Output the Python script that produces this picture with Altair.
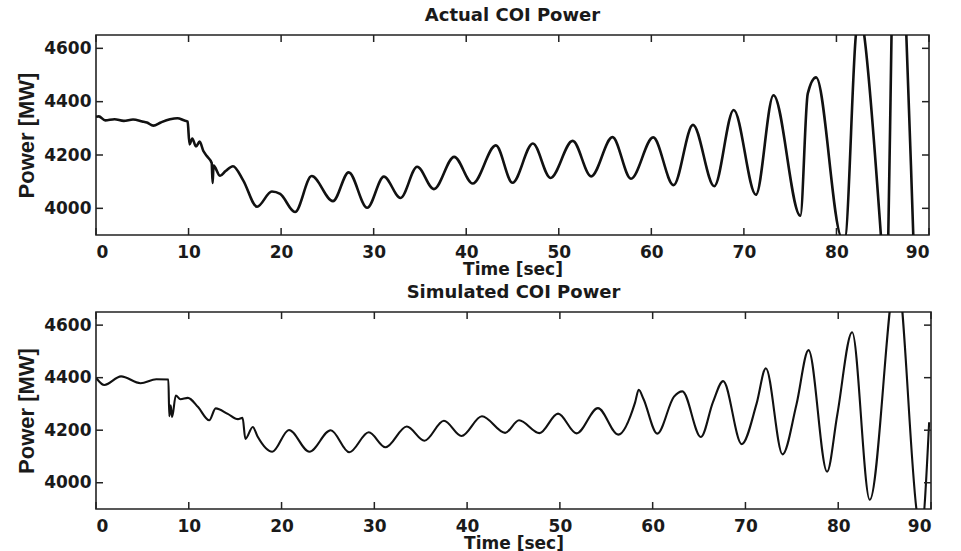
import altair as alt
import pandas as pd

# ---- data ----
actual_t = [0.0, 0.3, 1.0, 2.0, 3.0, 4.0, 5.0, 5.5, 6.2, 7.0, 8.0, 8.8, 9.5, 9.9,
            10.1, 10.4, 10.8, 11.2, 11.6, 12.0, 12.5, 12.6, 12.7, 13.4, 14.0, 14.8,
            15.9, 17.4, 19.0, 19.9, 21.5, 23.3, 25.6, 27.3, 29.3, 31.1, 32.9, 34.7,
            36.5, 38.7, 40.7, 43.2, 45.0, 47.2, 49.1, 51.5, 53.5, 55.8, 57.8, 60.2,
            62.4, 64.5, 66.8, 68.9, 71.3, 73.2, 76.1, 76.9, 77.8, 80.6, 80.9, 82.1,
            82.5, 83.0, 84.8, 85.2, 85.6, 85.95, 86.4, 87.0, 87.55, 88.3, 88.7]
actual_p = [4343, 4345, 4330, 4334, 4328, 4333, 4326, 4322, 4310, 4322, 4334, 4338, 4330, 4325,
            4240, 4262, 4232, 4250, 4215, 4195, 4170, 4095, 4160, 4122, 4140, 4158,
            4105, 4006, 4063, 4054, 3986, 4121, 4027, 4135, 4002, 4119, 4039, 4156,
            4072, 4193, 4093, 4236, 4096, 4243, 4114, 4253, 4120, 4267, 4111, 4266,
            4087, 4313, 4083, 4369, 4051, 4424, 3972, 4430, 4491, 3890, 3890, 4650,
            4760, 4650, 3900, 3700, 3900, 4650, 5100, 5000, 4650, 3900, 3500]

sim_t = [0.0, 0.9, 2.7, 4.8, 6.5, 7.8, 7.9, 8.05, 8.2, 8.6, 9.1, 9.9, 11.0, 12.2,
         12.9, 14.2, 15.3, 15.8, 16.1, 16.9, 17.4, 19.0, 20.8, 23.0, 25.3, 27.3,
         29.4, 31.2, 33.5, 35.4, 37.5, 39.4, 41.6, 44.1, 45.6, 47.8, 49.8, 51.8,
         54.1, 56.3, 58.1, 58.5, 59.0, 60.5, 62.3, 63.2, 65.2, 66.5, 67.6, 69.6,
         71.2, 72.2, 74.0, 75.5, 76.8, 78.8, 79.9, 81.5, 83.4, 86.3, 88.5, 88.9, 89.8]
sim_p = [4400, 4372, 4405, 4379, 4394, 4393, 4253, 4295, 4250, 4332, 4318, 4323, 4288, 4238,
         4283, 4262, 4242, 4247, 4167, 4212, 4177, 4118, 4201, 4118, 4200, 4116,
         4192, 4135, 4214, 4160, 4236, 4178, 4253, 4190, 4238, 4189, 4263, 4188,
         4284, 4183, 4305, 4354, 4320, 4187, 4328, 4348, 4174, 4307, 4387, 4147,
         4301, 4436, 4108, 4298, 4505, 4042, 4259, 4573, 3935, 4800, 3880, 3800, 4230]

x_ticks = [0, 10, 20, 30, 40, 50, 60, 70, 80, 90]
y_ticks = [4000, 4200, 4400, 4600]

FONT = "DejaVu Sans"
INK = "#1a1a1a"

X_AXIS = alt.Axis(values=x_ticks, format="d", title="Time [sec]", labelPadding=9, titlePadding=1)
Y_AXIS = alt.Axis(values=y_ticks, format="d", title="Power [MW]", labelPadding=5, titlePadding=5,
                  titleFont="Liberation Sans", titleFontSize=22, titleFontWeight="bold",
                  titleLimit=400)


def panel(t, p, title, width, height, stroke):
    df = pd.DataFrame({"t": t, "p": p})
    xs = alt.Scale(domain=[0, 90], nice=False, zero=False)
    ys = alt.Scale(domain=[3900, 4650], nice=False, zero=False)
    line = alt.Chart(df).mark_line(
        clip=True, color="#111111", strokeWidth=stroke, interpolate="monotone"
    ).encode(
        x=alt.X("t:Q", scale=xs, axis=X_AXIS),
        y=alt.Y("p:Q", scale=ys, axis=Y_AXIS),
    )
    xt = pd.DataFrame({"t": x_ticks})
    yt = pd.DataFrame({"p": y_ticks})
    tick_style = dict(color="#222222", strokeWidth=1.5)
    bottom_ticks = alt.Chart(xt).mark_rule(**tick_style).encode(
        x=alt.X("t:Q", scale=xs, axis=X_AXIS), y=alt.value(height), y2=alt.value(height - 7))
    top_ticks = alt.Chart(xt).mark_rule(**tick_style).encode(
        x=alt.X("t:Q", scale=xs, axis=X_AXIS), y=alt.value(0), y2=alt.value(7))
    left_ticks = alt.Chart(yt).mark_rule(**tick_style).encode(
        y=alt.Y("p:Q", scale=ys, axis=Y_AXIS), x=alt.value(0), x2=alt.value(7))
    right_ticks = alt.Chart(yt).mark_rule(**tick_style).encode(
        y=alt.Y("p:Q", scale=ys, axis=Y_AXIS), x=alt.value(width), x2=alt.value(width - 7))
    return alt.layer(line, bottom_ticks, top_ticks, left_ticks, right_ticks).properties(
        width=width, height=height,
        title=alt.TitleParams(title, font=FONT, fontSize=18, fontWeight="bold",
                              color=INK, offset=9),
    )


top = panel(actual_t, actual_p, "Actual COI Power", 833, 200, 2.6)
bottom = panel(sim_t, sim_p, "Simulated COI Power", 835, 197, 2.1)

chart = alt.vconcat(top, bottom, spacing=5).properties(
    padding={"left": 14, "top": 6, "right": 5, "bottom": 0},
    background="white",
).configure_view(
    stroke="#222222", strokeWidth=1.6
).configure_axis(
    domain=False, ticks=False, tickSize=0, grid=False,
    labelFont=FONT, labelFontSize=17, labelFontWeight="bold", labelColor=INK,
    titleFont=FONT, titleFontSize=17, titleFontWeight="bold", titleColor=INK,
)

chart.save("out.html", embed_options={"renderer": "svg", "actions": False})
